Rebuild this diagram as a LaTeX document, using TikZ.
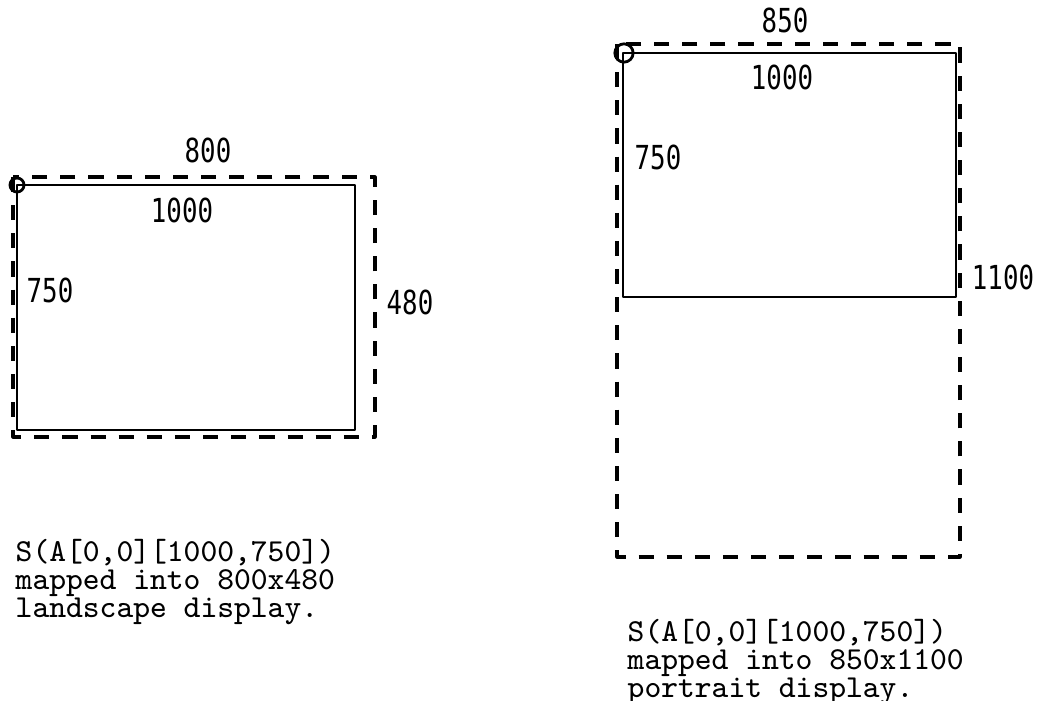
\documentclass[tikz,border=0pt]{standalone}
\usepackage{fontspec}
\newfontfamily\dimfont[FakeStretch=0.78]{DejaVu Sans Mono}
\usepackage{tikz}
\tikzset{
  every picture/.style={line join=round, line cap=butt},
  window/.style={line width=0.75pt},
  screen/.style={line width=0.9pt, dash pattern=on 4.3pt off 3.7pt},
  dimlabel/.style={font=\dimfont\fontsize{9.4}{10}\selectfont, inner sep=0pt},
  caption/.style={font=\ttfamily\fontsize{9.1}{7.9}\selectfont\addfontfeatures{FakeBold=0.5},
    align=left, anchor=north west, inner sep=0pt},
}

\begin{document}
\begin{tikzpicture}[x=0.01cm, y=-0.01cm]
\useasboundingbox (0,0) rectangle (1040,700);
% landscape display
\draw[screen] (13,177) rectangle (375,437);
\draw[window] (17,185) rectangle (355,430);
\draw[line width=0.8pt] (17,185) circle[radius=2pt];
\node[dimlabel] (lw) at (208,150) {800};
\node[dimlabel] (lww) at (182,210) {1000};
\node[dimlabel] (lwh) at (50,290) {750};
\node[dimlabel] (lh) at (410,302) {480};
\node[caption] (lcap) at (15,539) {S(A[0,0][1000,750])\\mapped into 800x480\\landscape display.};
% portrait display
\draw[screen] (617,44) rectangle (960,557);
\draw[window] (623,53) rectangle (956,297);
\draw[line width=0.8pt] (624,53) circle[radius=2.6pt];
\node[dimlabel] (pw) at (785,20) {850};
\node[dimlabel] (pww) at (782,77) {1000};
\node[dimlabel] (pwh) at (658,157) {750};
\node[dimlabel] (ph) at (1003,277) {1100};
\node[caption] (pcap) at (627,619) {S(A[0,0][1000,750])\\mapped into 850x1100\\portrait display.};
\end{tikzpicture}
\end{document}
